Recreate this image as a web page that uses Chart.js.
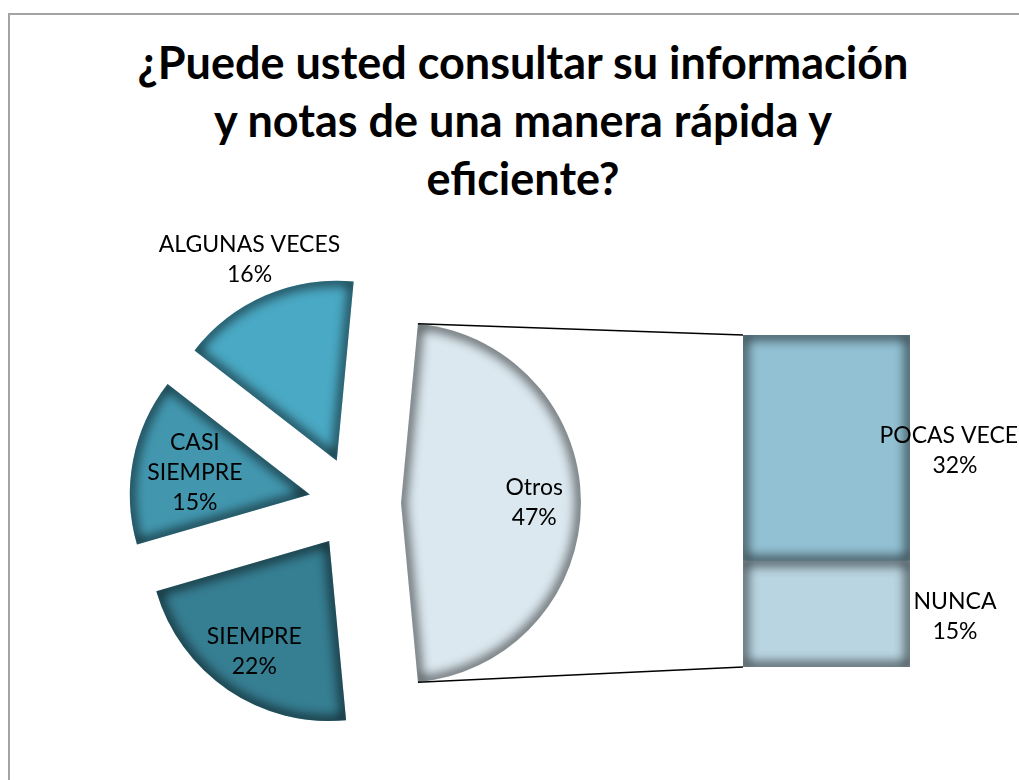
<!DOCTYPE html>
<html>
<head>
	<meta charset="utf-8">
	<title>¿Puede usted consultar su información y notas de una manera rápida y eficiente?</title>
	<script src="https://cdn.jsdelivr.net/npm/chart.js@4.4.0/dist/chart.umd.min.js"></script>
	<style>
		html, body {
			margin: 0;
			padding: 0;
			background: #fff;
		}
		#wrap {
			position: relative;
			width: 1019px;
			height: 780px;
			overflow: hidden;
			font-family: Lato, sans-serif;
		}
		#frame {
			position: absolute;
			left: 8px;
			top: 13px;
			width: 1100px;
			height: 900px;
			border: 2px solid #a3a3a3;
		}
		#title {
			position: absolute;
			left: 0;
			top: 33px;
			width: 1046px;
			margin: 0;
			text-align: center;
			font-size: 45px;
			line-height: 58px;
			font-weight: bold;
			color: #000;
		}
		canvas {
			position: absolute;
			left: 0;
			top: 0;
		}
	</style>
</head>
<body>
<div id="wrap">
	<div id="frame"></div>
	<h1 id="title">¿Puede usted consultar su información<br>y notas de una manera rápida y<br>eficiente?</h1>
	<canvas id="pie" width="1019" height="780"></canvas>
	<canvas id="bar" width="1019" height="780"></canvas>
</div>
<script>
	// main pie: the first slice is the one broken out into the bar
	const pieLabels = ['Otros', 'SIEMPRE', 'CASI SIEMPRE', 'ALGUNAS VECES'];
	const pieValues = [47, 22, 15, 16];
	const pieColors = ['#dbe8ef', '#367e92', '#4297af', '#4aa9c4'];

	// bar for "Otros", bottom to top
	const barLabels = ['NUNCA', 'POCAS VECES'];
	const barValues = [15, 32];
	const barColors = ['#b9d5e1', '#92c1d3'];

	const labelFont = '23px Lato';
	const labelLine = 30;
	const explode = 46;
	const labelRadius = [0.74, 0.74, 0.65, 1.22];

	// soft dark edge inside a shape (only the shadow of an off-screen stroke is drawn)
	function innerShadow(ctx, path) {
		ctx.save();
		ctx.beginPath();
		path();
		ctx.clip();
		ctx.translate(-5000, 0);
		ctx.beginPath();
		path();
		ctx.shadowOffsetX = 5000;
		ctx.shadowColor = 'rgba(0,0,0,0.85)';
		ctx.shadowBlur = 12;
		ctx.lineWidth = 7;
		ctx.strokeStyle = '#000';
		ctx.stroke();
		ctx.restore();
	}

	function drawLines(ctx, lines, x, y) {
		lines.forEach((t, j) => ctx.fillText(t, x, y + (j - (lines.length - 1) / 2) * labelLine));
	}

	const explodePlugin = {
		id: 'explode',
		afterDatasetUpdate(chart, args) {
			chart.getDatasetMeta(args.index).data.forEach(arc => {
				const mid = (arc.startAngle + arc.endAngle) / 2;
				arc.x += Math.cos(mid) * explode;
				arc.y += Math.sin(mid) * explode;
			});
		}
	};

	const pieLook = {
		id: 'pieLook',
		afterDatasetsDraw(chart) {
			const ctx = chart.ctx;
			const arcs = chart.getDatasetMeta(0).data;
			arcs.forEach(a => innerShadow(ctx, () => {
				ctx.moveTo(a.x, a.y);
				ctx.arc(a.x, a.y, a.outerRadius, a.startAngle, a.endAngle);
				ctx.closePath();
			}));
			ctx.save();
			ctx.font = labelFont;
			ctx.fillStyle = '#000';
			ctx.textAlign = 'center';
			ctx.textBaseline = 'middle';
			arcs.forEach((a, i) => {
				const mid = (a.startAngle + a.endAngle) / 2;
				const d = a.outerRadius * labelRadius[i];
				let lines = [pieLabels[i]];
				if (labelRadius[i] < 1 && ctx.measureText(pieLabels[i]).width > 120) {
					lines = pieLabels[i].split(' ');
				}
				lines.push(pieValues[i] + '%');
				drawLines(ctx, lines, a.x + Math.cos(mid) * d, a.y + Math.sin(mid) * d);
			});
			ctx.restore();
		}
	};

	const pieChart = new Chart(document.getElementById('pie'), {
		type: 'pie',
		data: {
			labels: pieLabels,
			datasets: [{
				data: pieValues,
				backgroundColor: pieColors,
				borderWidth: 0
			}]
		},
		options: {
			responsive: false,
			animation: false,
			events: [],
			rotation: 90 - pieValues[0] * 1.8,
			radius: 180,
			layout: {padding: {left: 0, right: 309, top: 226, bottom: 0}},
			plugins: {
				legend: {display: false},
				tooltip: {enabled: false}
			}
		},
		plugins: [explodePlugin, pieLook]
	});

	const barLook = {
		id: 'barLook',
		beforeDatasetsDraw(chart) {
			// connector lines from the "Otros" slice to the bar
			const ctx = chart.ctx;
			const a = pieChart.getDatasetMeta(0).data[0];
			const low = chart.getDatasetMeta(0).data[0];
			const top = chart.getDatasetMeta(barValues.length - 1).data[0];
			ctx.save();
			ctx.strokeStyle = '#000';
			ctx.lineWidth = 1.5;
			ctx.beginPath();
			ctx.moveTo(a.x + Math.cos(a.startAngle) * a.outerRadius, a.y + Math.sin(a.startAngle) * a.outerRadius);
			ctx.lineTo(top.x - top.width / 2, top.y);
			ctx.moveTo(a.x + Math.cos(a.endAngle) * a.outerRadius, a.y + Math.sin(a.endAngle) * a.outerRadius);
			ctx.lineTo(low.x - low.width / 2, low.base);
			ctx.stroke();
			ctx.restore();
		},
		afterDatasetsDraw(chart) {
			const ctx = chart.ctx;
			barValues.forEach((v, i) => {
				const b = chart.getDatasetMeta(i).data[0];
				innerShadow(ctx, () => ctx.rect(b.x - b.width / 2, b.y, b.width, b.base - b.y));
			});
			ctx.save();
			ctx.font = labelFont;
			ctx.fillStyle = '#000';
			ctx.textAlign = 'center';
			ctx.textBaseline = 'middle';
			barValues.forEach((v, i) => {
				const b = chart.getDatasetMeta(i).data[0];
				drawLines(ctx, [barLabels[i], v + '%'], b.x + b.width / 2 + 45, (b.y + b.base) / 2 + 3);
			});
			ctx.restore();
		}
	};

	const barTotal = barValues.reduce((s, v) => s + v, 0);
	const barChart = new Chart(document.getElementById('bar'), {
		type: 'bar',
		data: {
			labels: [pieLabels[0]],
			datasets: barLabels.map((l, i) => ({
				label: l,
				data: [barValues[i]],
				backgroundColor: barColors[i],
				borderWidth: 0,
				barPercentage: 1,
				categoryPercentage: 1
			}))
		},
		options: {
			responsive: false,
			animation: false,
			events: [],
			layout: {padding: {left: 743, right: 109, top: 335, bottom: 113}},
			scales: {
				x: {display: false, stacked: true},
				y: {display: false, stacked: true, min: 0, max: barTotal}
			},
			plugins: {
				legend: {display: false},
				tooltip: {enabled: false}
			}
		},
		plugins: [barLook]
	});
</script>
</body>
</html>
